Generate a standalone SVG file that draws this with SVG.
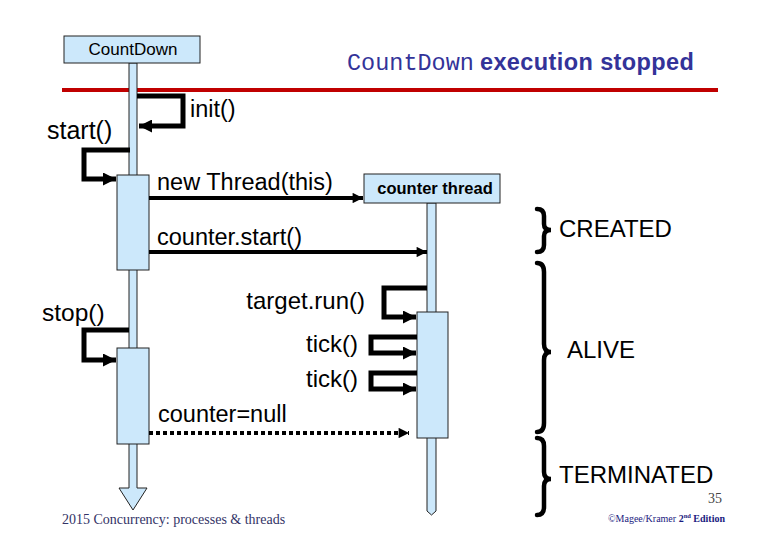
<svg xmlns="http://www.w3.org/2000/svg" width="780" height="540" viewBox="0 0 780 540">
<defs>
<marker id="ah" viewBox="0 0 10 10" refX="10" refY="5" markerWidth="3.2" markerHeight="2.6" orient="auto" markerUnits="strokeWidth">
<path d="M0,0 L10,5 L0,10 z" fill="#000"/>
</marker>
<style>
.box{fill:#cce8fb;stroke:#222;stroke-width:1}
.lbl{font-family:"Liberation Sans",Arial,sans-serif;font-size:23.5px;fill:#000}
.st{font-family:"Liberation Sans",Arial,sans-serif;font-size:24px;fill:#000}
.msg{fill:none;stroke:#000;stroke-width:4;marker-end:url(#ah)}
.self{fill:none;stroke:#000;stroke-width:5;stroke-linejoin:miter;marker-end:url(#ah)}
.brace{fill:none;stroke:#000;stroke-width:4.5;stroke-linecap:round}
</style>
</defs>
<rect width="780" height="540" fill="#fff"/>

<!-- title -->
<text x="347" y="70" style="font-size:23.5px" fill="#333399"><tspan font-family="'Liberation Mono','Courier New',monospace">CountDown</tspan><tspan font-family="'Liberation Sans',Arial,sans-serif" font-weight="bold" dx="6" letter-spacing="0.4">execution stopped</tspan></text>
<rect x="62" y="88" width="656" height="4" fill="#c00000"/>

<!-- CountDown object -->
<g id="countdown">
<path class="box" d="M129,63 L137,63 L137,488 L147,488 L133,510 L119,488 L129,488 Z"/>
<rect class="box" x="64" y="36" width="136" height="27"/>
<text class="lbl" x="133" y="55" style="font-size:17px" text-anchor="middle">CountDown</text>
<rect class="box" x="117" y="175" width="32" height="95"/>
<rect class="box" x="117" y="348" width="32" height="96"/>
</g>

<!-- counter thread object -->
<g id="counter-thread">
<path class="box" d="M427,203 L436,203 L436,511 L431.5,515 L427,511 Z"/>
<rect class="box" x="364" y="174" width="136" height="29"/>
<text x="435" y="194" font-family="'Liberation Sans',Arial,sans-serif" font-size="16.5" font-weight="bold" text-anchor="middle">counter thread</text>
<rect class="box" x="417" y="312" width="31" height="126"/>
</g>

<!-- connectors -->
<g id="connectors">
<path class="self" d="M137,96 L183,96 L183,126 L139,126"/>
<path class="self" d="M130,150 L84,150 L84,179 L116,179"/>
<path class="msg" d="M149,198 L363,198"/>
<path class="msg" d="M149,252 L427,252"/>
<path class="self" d="M427,288 L384,288 L384,317 L416,317"/>
<path class="self" d="M417,337 L371,337 L371,353 L416,353"/>
<path class="self" d="M417,373 L371,373 L371,389 L416,389"/>
<path class="self" d="M129,330 L84,330 L84,360 L116,360"/>
<path class="msg" d="M149,433 L409,433" stroke-dasharray="4 3"/>
</g>

<!-- labels -->
<g id="labels">
<text class="lbl" x="190" y="117">init()</text>
<text class="lbl" x="47" y="139" style="font-size:25px">start()</text>
<text class="lbl" x="157" y="190">new Thread(this)</text>
<text class="lbl" x="157" y="245">counter.start()</text>
<text class="lbl" x="365" y="309" text-anchor="end" style="font-size:24px">target.run()</text>
<text class="lbl" x="42" y="321" style="font-size:24.5px">stop()</text>
<text class="lbl" x="358" y="352" text-anchor="end" style="font-size:24px">tick()</text>
<text class="lbl" x="358" y="387" text-anchor="end" style="font-size:24px">tick()</text>
<text class="lbl" x="158" y="422">counter=null</text>
</g>

<!-- state braces -->
<g id="states">
<path class="brace" d="M537,209 Q544,209 544,216 L544,224 Q544,230 551,230 Q544,230 544,236 L544,245 Q544,252 537,252"/>
<text class="st" x="559" y="237">CREATED</text>
<path class="brace" d="M537,263 Q544,263 544,272 L544,344 Q544,352 551,352 Q544,352 544,360 L544,423 Q544,432 537,432"/>
<text class="st" x="567" y="358">ALIVE</text>
<path class="brace" d="M537,438 Q544,438 544,446 L544,472 Q544,479 551,479 Q544,479 544,486 L544,507 Q544,515 537,515"/>
<text class="st" x="559" y="483">TERMINATED</text>
</g>

<!-- footer -->
<text x="722" y="503" font-family="'Liberation Serif','Times New Roman',serif" font-size="14" fill="#444" text-anchor="end">35</text>
<text x="62" y="524" font-family="'Liberation Serif','Times New Roman',serif" font-size="14" fill="#333366">2015 Concurrency: processes &amp; threads</text>
<text x="608" y="522" font-family="'Liberation Serif','Times New Roman',serif" font-size="10" fill="#1a1a80">©Magee/Kramer <tspan font-weight="bold">2<tspan font-size="6.5" dy="-4">nd</tspan><tspan dy="4"> Edition</tspan></tspan></text>
</svg>
